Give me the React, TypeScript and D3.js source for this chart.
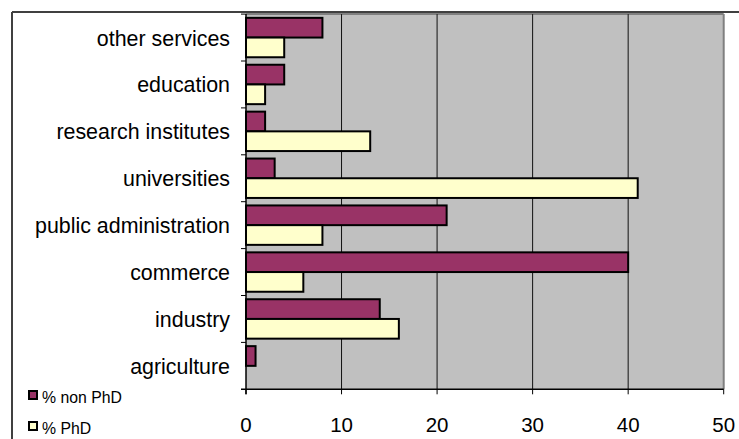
import React from "react";
import * as d3 from "d3";

const categories = [
  "other services",
  "education",
  "research institutes",
  "universities",
  "public administration",
  "commerce",
  "industry",
  "agriculture",
];
const nonPhd = [8, 4, 2, 3, 21, 40, 14, 1];
const phd = [4, 2, 13, 41, 8, 6, 16, 0];
const seriesNames = ["% non PhD", "% PhD"];
const seriesColors = ["#993366", "#FFFFCC"];
const xTicks = [0, 10, 20, 30, 40, 50];

const W = 739;
const H = 439;
const plot = { left: 246, right: 723.7, top: 14.1, bottom: 389.3 };
const font = "'Liberation Sans', Arial, sans-serif";

export default function App() {
  const x = d3.scaleLinear().domain([0, 50]).range([plot.left, plot.right]);
  const y = d3
    .scaleBand<string>()
    .domain(categories)
    .range([plot.top, plot.bottom])
    .padding(0);
  const sub = d3
    .scaleBand<string>()
    .domain(seriesNames)
    .range([0, y.bandwidth()])
    .paddingInner(0)
    .paddingOuter(0.19);
  const values = [nonPhd, phd];

  return (
    <div style={{ position: "fixed", left: 0, top: 0 }}>
      <svg width={W} height={H} style={{ display: "block", background: "#fff" }}>
        {/* chart border */}
        <line x1={12} y1={12} x2={W} y2={12} stroke="#404040" strokeWidth={2} />
        <line x1={12} y1={12} x2={12} y2={H} stroke="#404040" strokeWidth={2} />
        {/* plot background */}
        <rect
          x={plot.left}
          y={plot.top}
          width={plot.right - plot.left}
          height={plot.bottom - plot.top}
          fill="#C0C0C0"
        />
        <line x1={plot.left} y1={plot.top} x2={plot.right} y2={plot.top} stroke="#808080" strokeWidth={2} />
        <line x1={plot.right} y1={plot.top} x2={plot.right} y2={plot.bottom} stroke="#808080" strokeWidth={2} />
        {/* gridlines */}
        {xTicks.slice(1, -1).map((t) => (
          <line key={t} x1={x(t)} x2={x(t)} y1={plot.top} y2={plot.bottom} stroke="#111" strokeWidth={1} />
        ))}
        {/* bars */}
        {categories.map((c, i) =>
          seriesNames.map((s, j) => {
            const v = values[j][i];
            if (v <= 0) return null;
            return (
              <rect
                key={c + s}
                x={x(0)}
                y={(y(c) as number) + (sub(s) as number)}
                width={x(v) - x(0)}
                height={sub.bandwidth()}
                fill={seriesColors[j]}
                stroke="#000"
                strokeWidth={2}
              />
            );
          })
        )}
        {/* axes */}
        <line x1={plot.left} y1={plot.top} x2={plot.left} y2={plot.bottom + 5} stroke="#000" strokeWidth={1.5} />
        <line x1={plot.left - 5} y1={plot.bottom} x2={plot.right} y2={plot.bottom} stroke="#000" strokeWidth={1.5} />
        {categories.map((c) => (
          <line
            key={"t" + c}
            x1={plot.left - 5}
            x2={plot.left}
            y1={y(c) as number}
            y2={y(c) as number}
            stroke="#000"
            strokeWidth={1}
          />
        ))}
        {xTicks.map((t) => (
          <line key={"xt" + t} x1={x(t)} x2={x(t)} y1={plot.bottom} y2={plot.bottom + 5} stroke="#000" strokeWidth={1} />
        ))}
        {/* category labels */}
        {categories.map((c) => (
          <text
            key={"l" + c}
            x={230}
            y={(y(c) as number) + y.bandwidth() / 2 + 8}
            textAnchor="end"
            fontFamily={font}
            fontSize={21.4}
            fill="#000"
          >
            {c}
          </text>
        ))}
        {/* x tick labels */}
        {xTicks.map((t) => (
          <text
            key={"xl" + t}
            x={x(t)}
            y={432}
            textAnchor="middle"
            fontFamily={font}
            fontSize={20.5}
            fill="#000"
          >
            {t}
          </text>
        ))}
        {/* legend */}
        {seriesNames.map((s, j) => (
          <g key={"lg" + s} transform={`translate(29, ${391 + j * 31})`}>
            <rect x={0} y={0} width={8} height={8} fill={seriesColors[j]} stroke="#000" strokeWidth={2} />
            <text x={13} y={12} fontFamily={font} fontSize={15.8} fill="#000">
              {s}
            </text>
          </g>
        ))}
      </svg>
    </div>
  );
}
